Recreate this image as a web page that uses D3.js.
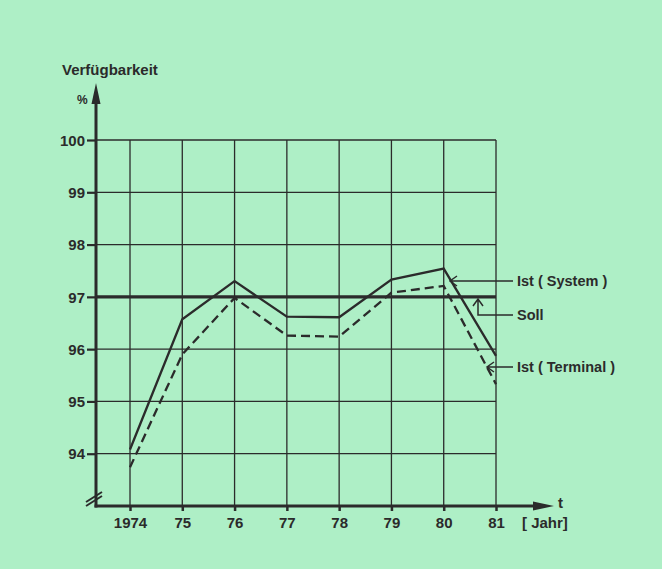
<!DOCTYPE html>
<html><head><meta charset="utf-8">
<script src="https://cdn.jsdelivr.net/npm/d3@7"></script>
<style>
html,body{margin:0;padding:0;background:#aeefc6;}
svg{display:block;}
text{font-family:"Liberation Sans",Arial,sans-serif;font-weight:bold;fill:#2b2b2b;}
</style></head>
<body>
<script>
const years = [1974, 1975, 1976, 1977, 1978, 1979, 1980, 1981];
const yearLabels = ["1974", "75", "76", "77", "78", "79", "80", "81"];
const istSystem = [94.08, 96.57, 97.30, 96.62, 96.61, 97.33, 97.54, 95.87];
const istTerminal = [93.74, 95.90, 96.98, 96.26, 96.24, 97.08, 97.21, 95.33];
const soll = [97, 97];
const yTicks = [94, 95, 96, 97, 98, 99, 100];

const W = 662, H = 569, ink = "#2b2b2b";
const svg = d3.select("body").append("svg").attr("width", W).attr("height", H);
svg.append("rect").attr("width", W).attr("height", H).attr("fill", "#aeefc6");

const x = d3.scaleLinear().domain([1974, 1981]).range([130, 496]);
const y = d3.scaleLinear().domain([93, 100]).range([506, 140]);
const axisX0 = 96, gridRight = x(1981);

// grid
const g = svg.append("g");
g.selectAll(".hg").data(yTicks).join("line")
  .attr("x1", axisX0).attr("x2", gridRight)
  .attr("y1", d => y(d)).attr("y2", d => y(d))
  .attr("stroke", ink).attr("stroke-width", 1.3);
g.selectAll(".vg").data(years).join("line")
  .attr("x1", d => x(d)).attr("x2", d => x(d))
  .attr("y1", y(100)).attr("y2", y(93))
  .attr("stroke", ink).attr("stroke-width", 1.3);

// y axis (ticks + labels)
const ya = svg.append("g").attr("transform", `translate(${axisX0},0)`)
  .call(d3.axisLeft(y).tickValues(yTicks).tickSize(9).tickPadding(2).tickFormat(d3.format("d")));
ya.select(".domain").remove();
ya.selectAll(".tick line").attr("stroke", ink).attr("stroke-width", 2.2);
ya.selectAll(".tick text").attr("font-size", 15).attr("fill", ink).attr("font-family", "Liberation Sans, Arial, sans-serif").attr("font-weight", "bold").attr("dy", "0.35em");

// x axis
const xa = svg.append("g").attr("transform", `translate(0,${y(93)})`)
  .call(d3.axisBottom(x).tickValues(years).tickSize(5).tickPadding(6).tickFormat((d, i) => yearLabels[i]));
xa.select(".domain").remove();
xa.selectAll(".tick line").attr("stroke", ink).attr("stroke-width", 2.5);
xa.selectAll(".tick text").attr("font-size", 15).attr("fill", ink).attr("font-family", "Liberation Sans, Arial, sans-serif").attr("font-weight", "bold");

// axis lines with arrows
svg.append("line").attr("x1", axisX0).attr("x2", axisX0).attr("y1", 100).attr("y2", y(93) + 1.5)
  .attr("stroke", ink).attr("stroke-width", 3);
svg.append("path").attr("d", `M${axisX0},83 L${axisX0 - 4.5},104 L${axisX0 + 4.5},104 Z`).attr("fill", ink);
svg.append("line").attr("x1", axisX0 - 1.5).attr("x2", 537).attr("y1", y(93)).attr("y2", y(93))
  .attr("stroke", ink).attr("stroke-width", 3);
svg.append("path").attr("d", `M554,${y(93)} L533,${y(93) - 4.5} L533,${y(93) + 4.5} Z`).attr("fill", ink);

// axis break
[0, 4].forEach(o => {
  svg.append("line").attr("x1", 86).attr("y1", 502 + o).attr("x2", 102).attr("y2", 492 + o)
    .attr("stroke", ink).attr("stroke-width", 2);
});

// labels
svg.append("text").attr("x", 62).attr("y", 75).attr("font-size", 15).text("Verfügbarkeit");
svg.append("text").attr("x", 77).attr("y", 104).attr("font-size", 12).text("%");
svg.append("text").attr("x", 558).attr("y", 508).attr("font-size", 15).text("t");
svg.append("text").attr("x", 522).attr("y", 528).attr("font-size", 15).text("[ Jahr]");

// soll line
svg.append("line").attr("x1", axisX0).attr("x2", gridRight).attr("y1", y(soll[0])).attr("y2", y(soll[1]))
  .attr("stroke", ink).attr("stroke-width", 3.2);

// data lines
const line = d3.line().x((d, i) => x(years[i])).y(d => y(d));
svg.append("path").datum(istSystem).attr("d", line).attr("fill", "none")
  .attr("stroke", ink).attr("stroke-width", 2.3).attr("stroke-linejoin", "miter");
svg.append("path").datum(istTerminal).attr("d", line).attr("fill", "none")
  .attr("stroke", ink).attr("stroke-width", 2.3).attr("stroke-dasharray", "9,5");

// annotations
const ann = svg.append("g").attr("fill", "none").attr("stroke", ink).attr("stroke-width", 1.5);
ann.append("path").attr("d", "M513,281 L450,281 M457,276 L450,281 L457,286");
ann.append("path").attr("d", "M513,315 L478,315 L478,299 M473,306 L478,299 L483,306");
ann.append("path").attr("d", "M513,367 L487,367 M494,362 L487,367 L494,372");
svg.append("text").attr("x", 517).attr("y", 286).attr("font-size", 14.5).text("Ist ( System )");
svg.append("text").attr("x", 517).attr("y", 320).attr("font-size", 14.5).text("Soll");
svg.append("text").attr("x", 517).attr("y", 372).attr("font-size", 14.5).text("Ist ( Terminal )");
</script>
</body></html>
